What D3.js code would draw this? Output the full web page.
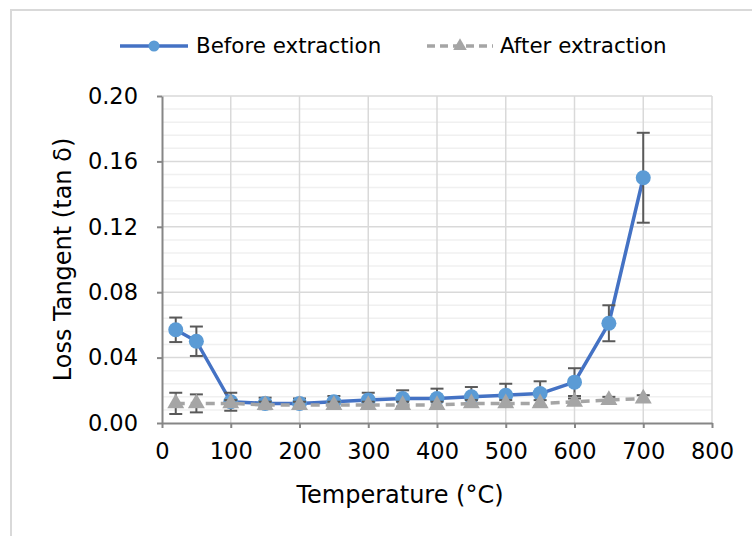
<!DOCTYPE html>
<html>
<head>
<meta charset="utf-8">
<script src="https://cdn.jsdelivr.net/npm/d3@7"></script>
<style>
  body { margin: 0; background: #fff; }
  svg text { font-family: "DejaVu Sans", Verdana, sans-serif; fill: #000; }
</style>
</head>
<body>
<div id="chart"></div>
<script>
// temperatures (°C)
const temps = [20, 50, 100, 150, 200, 250, 300, 350, 400, 450, 500, 550, 600, 650, 700];
// loss tangent, before / after extraction, with error (±)
const before = [0.057, 0.050, 0.013, 0.012, 0.012, 0.013, 0.014, 0.015, 0.015, 0.016, 0.017, 0.018, 0.025, 0.061, 0.150];
const beforeErr = [0.0075, 0.009, 0.0055, 0.0035, 0.003, 0.0035, 0.0045, 0.005, 0.006, 0.006, 0.007, 0.0075, 0.0085, 0.011, 0.0275];
const after = [0.012, 0.012, 0.012, 0.011, 0.011, 0.011, 0.011, 0.011, 0.011, 0.012, 0.012, 0.012, 0.013, 0.014, 0.015];
const afterErr = [0.0065, 0.0055, 0.002, 0.002, 0.002, 0.002, 0.002, 0.002, 0.002, 0.002, 0.002, 0.002, 0.002, 0.002, 0.002];
const xTicks = [0, 100, 200, 300, 400, 500, 600, 700, 800];
const yTicks = [0, 0.04, 0.08, 0.12, 0.16, 0.20];
const seriesNames = ['Before extraction', 'After extraction'];

const width = 752, height = 536;
const margin = {top: 96, right: 40, bottom: 113, left: 162};

const svg = d3.select('#chart').append('svg')
  .attr('width', width)
  .attr('height', height);

// outer chart border
svg.append('rect')
  .attr('x', 11).attr('y', 10)
  .attr('width', width + 10).attr('height', height + 10)
  .attr('fill', 'none')
  .attr('stroke', '#d9d9d9')
  .attr('stroke-width', 2);

const x = d3.scaleLinear().domain([0, 800]).range([margin.left, width - margin.right]);
const y = d3.scaleLinear().domain([0, 0.2]).range([height - margin.bottom, margin.top]);

// minor gridlines
svg.append('g')
  .selectAll('line')
  .data(d3.range(1, 25).map(i => i * 0.008).filter(v => Math.abs(v / 0.04 - Math.round(v / 0.04)) > 1e-6))
  .enter().append('line')
  .attr('x1', x(0)).attr('x2', x(800))
  .attr('y1', d => y(d)).attr('y2', d => y(d))
  .attr('stroke', '#f0f0f0')
  .attr('stroke-width', 1.5);

// major gridlines
svg.append('g')
  .selectAll('line')
  .data(yTicks.slice(1))
  .enter().append('line')
  .attr('x1', x(0)).attr('x2', x(800))
  .attr('y1', d => y(d)).attr('y2', d => y(d))
  .attr('stroke', '#d9d9d9')
  .attr('stroke-width', 1.5);

svg.append('g')
  .selectAll('line')
  .data(xTicks.slice(1))
  .enter().append('line')
  .attr('x1', d => x(d)).attr('x2', d => x(d))
  .attr('y1', y(0)).attr('y2', y(0.2))
  .attr('stroke', '#d9d9d9')
  .attr('stroke-width', 1.5);

// axes
const xAxis = svg.append('g')
  .attr('transform', `translate(0,${y(0)})`)
  .call(d3.axisBottom(x).tickValues(xTicks).tickSizeInner(5).tickSizeOuter(0).tickPadding(15));
const yAxis = svg.append('g')
  .attr('transform', `translate(${x(0)},0)`)
  .call(d3.axisLeft(y).tickValues(yTicks).tickFormat(d3.format('.2f')).tickSizeInner(5).tickSizeOuter(0).tickPadding(19));

[xAxis, yAxis].forEach(a => {
  a.select('.domain').attr('stroke', '#868686').attr('stroke-width', 2);
  a.selectAll('.tick line').attr('stroke', '#868686').attr('stroke-width', 2);
  a.selectAll('.tick text').attr('font-size', 22.5).attr('fill', '#000');
});

// axis titles
svg.append('text')
  .attr('x', 400).attr('y', 503)
  .attr('text-anchor', 'middle')
  .attr('font-size', 24)
  .text('Temperature (°C)');

svg.append('text')
  .attr('transform', `translate(71,${(y(0) + y(0.2)) / 2}) rotate(-90)`)
  .attr('text-anchor', 'middle')
  .attr('font-size', 24)
  .text('Loss Tangent (tan δ)');

const line = d3.line().x(d => x(d[0])).y(d => y(d[1]));

function errorBars(vals, errs, cls) {
  const g = svg.append('g').attr('class', cls)
    .attr('stroke', '#595959').attr('stroke-width', 2);
  temps.forEach((t, i) => {
    const cx = x(t), lo = y(vals[i] - errs[i]), hi = y(vals[i] + errs[i]);
    g.append('line').attr('x1', cx).attr('x2', cx).attr('y1', lo).attr('y2', hi);
    g.append('line').attr('x1', cx - 6.5).attr('x2', cx + 6.5).attr('y1', lo).attr('y2', lo);
    g.append('line').attr('x1', cx - 6.5).attr('x2', cx + 6.5).attr('y1', hi).attr('y2', hi);
  });
}

// before extraction
const beforePts = temps.map((t, i) => [t, before[i]]);
svg.append('path')
  .datum(beforePts)
  .attr('d', line)
  .attr('fill', 'none')
  .attr('stroke', '#4472c4')
  .attr('stroke-width', 3.5)
  .attr('stroke-linejoin', 'round');
errorBars(before, beforeErr, 'err-before');
svg.append('g')
  .selectAll('circle')
  .data(beforePts)
  .enter().append('circle')
  .attr('cx', d => x(d[0]))
  .attr('cy', d => y(d[1]))
  .attr('r', 7.5)
  .attr('fill', '#5b9bd5');

// after extraction
const afterPts = temps.map((t, i) => [t, after[i]]);
svg.append('path')
  .datum(afterPts)
  .attr('d', line)
  .attr('fill', 'none')
  .attr('stroke', '#a5a5a5')
  .attr('stroke-width', 3.5)
  .attr('stroke-dasharray', '9,6');
errorBars(after, afterErr, 'err-after');
const tri = d3.symbol().type(d3.symbolTriangle).size(125);
svg.append('g')
  .selectAll('path')
  .data(afterPts)
  .enter().append('path')
  .attr('d', tri)
  .attr('transform', d => `translate(${x(d[0])},${y(d[1])})`)
  .attr('fill', '#a5a5a5');

// legend
const legend = svg.append('g');
legend.append('line')
  .attr('x1', 120).attr('x2', 188).attr('y1', 46).attr('y2', 46)
  .attr('stroke', '#4472c4').attr('stroke-width', 3.5);
legend.append('circle').attr('cx', 154).attr('cy', 46).attr('r', 5.5).attr('fill', '#5b9bd5');
legend.append('text').attr('x', 196).attr('y', 53).attr('font-size', 21.4).text(seriesNames[0]);

legend.append('line')
  .attr('x1', 427).attr('x2', 493).attr('y1', 46).attr('y2', 46)
  .attr('stroke', '#a5a5a5').attr('stroke-width', 3.5).attr('stroke-dasharray', '8,5');
legend.append('path').attr('d', d3.symbol().type(d3.symbolTriangle).size(80))
  .attr('transform', 'translate(460,46)').attr('fill', '#a5a5a5');
legend.append('text').attr('x', 500).attr('y', 53).attr('font-size', 21.4).text(seriesNames[1]);
</script>
</body>
</html>
